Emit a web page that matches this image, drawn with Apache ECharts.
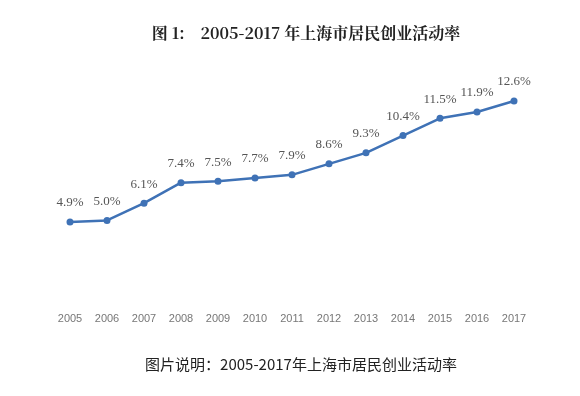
<!DOCTYPE html>
<html><head><meta charset="utf-8">
<script src="https://cdn.jsdelivr.net/npm/echarts@6/dist/echarts.min.js"></script>
<style>html,body{margin:0;padding:0;background:#fff}#c{width:580px;height:396px}</style>
</head><body><div id="c"></div>
<script>
const years = ['2005','2006','2007','2008','2009','2010','2011','2012','2013','2014','2015','2016','2017'];
const rates = [4.9,5.0,6.1,7.4,7.5,7.7,7.9,8.6,9.3,10.4,11.5,11.9,12.6];
const titleText = '图 1:    2005-2017 年上海市居民创业活动率';
const captionText = '图片说明：2005-2017年上海市居民创业活动率';
const chart = echarts.init(document.getElementById('c'));
chart.setOption({
  backgroundColor:'#fff',
  title:[{text:titleText,left:301,top:20,textAlign:'center',
    textStyle:{fontFamily:'Noto Serif CJK SC, Liberation Serif, serif',fontWeight:'bold',fontSize:16,color:'#222'}},
    {text:captionText,left:296,top:352,textAlign:'center',
    textStyle:{fontFamily:'Noto Sans CJK SC, sans-serif',fontWeight:'normal',fontSize:15,color:'#222'}}],
  grid:{left:51.5,right:47.5,top:79,bottom:97},
  xAxis:{type:'category',data:years,boundaryGap:true,
    axisLine:{show:false},axisTick:{show:false},
    axisLabel:{color:'#777',fontSize:11,margin:14,fontFamily:'Liberation Sans, sans-serif'}},
  yAxis:{type:'value',min:0,max:14,show:false,splitLine:{show:false}},
  series:[{type:'line',data:rates,symbol:'circle',symbolSize:7,
    lineStyle:{color:'#3f72b6',width:2.5},itemStyle:{color:'#3f72b6'},
    label:{show:true,position:'top',distance:9,formatter:p=>p.value.toFixed(1)+'%',
      color:'#555',fontSize:13,fontFamily:'Liberation Serif, serif'}}]
});
</script></body></html>
